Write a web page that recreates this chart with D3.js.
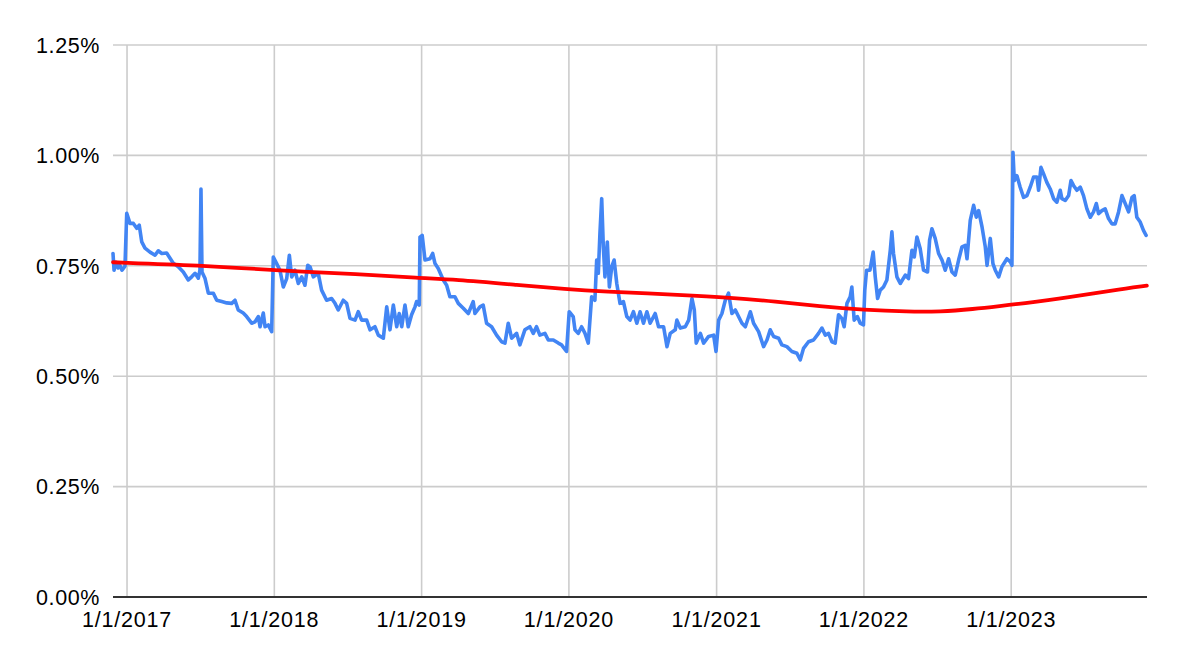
<!DOCTYPE html>
<html><head><meta charset="utf-8">
<script src="https://cdn.jsdelivr.net/npm/d3@7"></script>
<style>html,body{margin:0;padding:0;background:#fff;}svg{display:block;}</style>
</head><body>
<svg id="chart" width="1180" height="666"></svg>
<script>
// ---- data (dates as decimal years, values in %) ----
const seg2017 = [[2016.905,0.778],[2016.912,0.740],[2016.925,0.758],[2016.939,0.745],[2016.952,0.751],[2016.966,0.740],[2016.986,0.749],[2016.998,0.869],
[2017.020,0.846],[2017.043,0.846],[2017.066,0.835],[2017.083,0.842],[2017.100,0.804],[2017.122,0.790],[2017.156,0.781],[2017.190,0.774],[2017.212,0.784],[2017.236,0.778],[2017.269,0.779],[2017.292,0.767],[2017.314,0.756],[2017.348,0.748],[2017.382,0.736],[2017.416,0.718],[2017.439,0.725],[2017.462,0.733],[2017.484,0.722],[2017.495,0.740],[2017.502,0.924],[2017.509,0.736],[2017.529,0.722],[2017.552,0.688],[2017.586,0.688],[2017.609,0.672],[2017.643,0.669],[2017.677,0.666],[2017.711,0.665],[2017.733,0.672],[2017.755,0.650],[2017.789,0.643],[2017.812,0.635],[2017.846,0.620],[2017.869,0.623],[2017.891,0.635],[2017.903,0.612],[2017.925,0.643],[2017.937,0.612],[2017.959,0.616],[2017.982,0.601],[2017.993,0.770]];
const seg2018 = [[2018.016,0.755],[2018.038,0.740],[2018.061,0.702],[2018.084,0.721],[2018.102,0.774],[2018.118,0.725],[2018.140,0.740],[2018.163,0.710],[2018.186,0.725],[2018.208,0.706],[2018.227,0.751],[2018.242,0.748],[2018.265,0.725],[2018.298,0.733],[2018.321,0.695],[2018.355,0.672],[2018.389,0.676],[2018.412,0.665],[2018.434,0.650],[2018.468,0.672],[2018.491,0.665],[2018.514,0.631],[2018.548,0.627],[2018.570,0.646],[2018.593,0.627],[2018.627,0.627],[2018.650,0.605],[2018.683,0.612],[2018.706,0.593],[2018.740,0.586],[2018.763,0.657],[2018.785,0.605],[2018.808,0.661],[2018.831,0.612],[2018.848,0.642],[2018.865,0.612],[2018.887,0.661],[2018.909,0.612],[2018.932,0.639],[2018.955,0.657],[2018.966,0.669],[2018.984,0.661],[2018.989,0.815]];
const seg2019 = [[2019.004,0.819],[2019.023,0.763],[2019.057,0.766],[2019.075,0.778],[2019.091,0.755],[2019.113,0.744],[2019.147,0.718],[2019.170,0.706],[2019.192,0.680],[2019.226,0.680],[2019.249,0.665],[2019.283,0.654],[2019.317,0.642],[2019.350,0.669],[2019.362,0.642],[2019.396,0.657],[2019.418,0.661],[2019.441,0.620],[2019.475,0.612],[2019.509,0.593],[2019.543,0.578],[2019.566,0.575],[2019.588,0.620],[2019.611,0.586],[2019.645,0.597],[2019.667,0.571],[2019.701,0.605],[2019.735,0.612],[2019.758,0.597],[2019.780,0.612],[2019.803,0.593],[2019.837,0.597],[2019.860,0.582],[2019.894,0.582],[2019.928,0.575],[2019.950,0.571],[2019.984,0.556]];
const seg2020 = [[2020.002,0.646],[2020.029,0.635],[2020.041,0.605],[2020.063,0.597],[2020.086,0.612],[2020.109,0.597],[2020.131,0.575],[2020.154,0.680],[2020.176,0.672],[2020.188,0.763],[2020.199,0.733],[2020.210,0.823],[2020.222,0.902],[2020.233,0.793],[2020.244,0.725],[2020.260,0.804],[2020.274,0.702],[2020.290,0.748],[2020.306,0.763],[2020.324,0.710],[2020.346,0.665],[2020.369,0.669],[2020.392,0.635],[2020.414,0.627],[2020.437,0.646],[2020.460,0.620],[2020.482,0.646],[2020.505,0.620],[2020.528,0.646],[2020.550,0.620],[2020.584,0.642],[2020.607,0.612],[2020.641,0.612],[2020.664,0.567],[2020.686,0.597],[2020.720,0.605],[2020.731,0.627],[2020.754,0.609],[2020.788,0.612],[2020.811,0.627],[2020.833,0.676],[2020.849,0.650],[2020.862,0.575],[2020.890,0.597],[2020.912,0.575],[2020.946,0.590],[2020.980,0.593],[2020.996,0.556]];
const seg2021 = [[2021.014,0.627],[2021.036,0.642],[2021.059,0.672],[2021.081,0.688],[2021.104,0.642],[2021.127,0.650],[2021.149,0.635],[2021.172,0.620],[2021.195,0.612],[2021.229,0.646],[2021.251,0.620],[2021.285,0.601],[2021.319,0.567],[2021.342,0.582],[2021.364,0.605],[2021.387,0.590],[2021.421,0.586],[2021.443,0.571],[2021.477,0.567],[2021.511,0.556],[2021.545,0.552],[2021.568,0.537],[2021.590,0.563],[2021.624,0.578],[2021.658,0.582],[2021.692,0.597],[2021.715,0.609],[2021.738,0.593],[2021.760,0.597],[2021.783,0.578],[2021.805,0.575],[2021.828,0.639],[2021.850,0.631],[2021.866,0.612],[2021.885,0.665],[2021.907,0.680],[2021.918,0.702],[2021.934,0.627],[2021.956,0.635],[2021.975,0.620],[2021.997,0.616]];
const seg2022 = [[2022.006,0.695],[2022.018,0.740],[2022.041,0.740],[2022.063,0.781],[2022.077,0.725],[2022.093,0.676],[2022.111,0.695],[2022.133,0.702],[2022.156,0.718],[2022.179,0.785],[2022.190,0.827],[2022.201,0.778],[2022.224,0.725],[2022.247,0.710],[2022.281,0.729],[2022.303,0.721],[2022.326,0.785],[2022.342,0.770],[2022.360,0.815],[2022.382,0.789],[2022.405,0.740],[2022.432,0.736],[2022.446,0.808],[2022.462,0.834],[2022.484,0.812],[2022.507,0.778],[2022.530,0.763],[2022.552,0.740],[2022.575,0.766],[2022.598,0.736],[2022.620,0.729],[2022.643,0.763],[2022.666,0.793],[2022.688,0.796],[2022.700,0.766],[2022.722,0.853],[2022.745,0.887],[2022.763,0.860],[2022.779,0.875],[2022.802,0.838],[2022.824,0.793],[2022.836,0.751],[2022.858,0.812],[2022.876,0.755],[2022.892,0.740],[2022.915,0.725],[2022.937,0.748],[2022.971,0.766],[2022.994,0.759]];
const seg2023 = [[2023.005,0.751],[2023.012,1.007],[2023.021,0.943],[2023.039,0.954],[2023.061,0.928],[2023.084,0.905],[2023.107,0.909],[2023.129,0.928],[2023.152,0.951],[2023.175,0.951],[2023.186,0.921],[2023.202,0.973],[2023.220,0.958],[2023.242,0.939],[2023.265,0.924],[2023.288,0.902],[2023.310,0.894],[2023.333,0.921],[2023.344,0.902],[2023.367,0.898],[2023.390,0.909],[2023.406,0.943],[2023.423,0.932],[2023.446,0.921],[2023.469,0.928],[2023.491,0.909],[2023.514,0.879],[2023.537,0.860],[2023.559,0.872],[2023.578,0.891],[2023.593,0.868],[2023.616,0.875],[2023.638,0.879],[2023.661,0.857],[2023.684,0.845],[2023.706,0.845],[2023.729,0.872],[2023.752,0.909],[2023.774,0.891],[2023.797,0.872],[2023.820,0.905],[2023.835,0.909],[2023.853,0.860],[2023.876,0.849],[2023.898,0.830],[2023.916,0.819]];
const trend = [[2016.905,0.758],[2017.495,0.751],[2017.991,0.740],[2018.581,0.731],[2018.989,0.722],[2019.217,0.719],[2019.667,0.706],[2019.984,0.697],[2020.208,0.692],[2020.776,0.684],[2021.093,0.678],[2021.400,0.669],[2021.700,0.658],[2022.000,0.650],[2022.300,0.646],[2022.518,0.646],[2022.744,0.652],[2022.930,0.659],[2023.061,0.664],[2023.400,0.679],[2023.695,0.695],[2023.921,0.705]];
const xTickYears = [2017,2018,2019,2020,2021,2022,2023];
const yTicks = [0,0.25,0.5,0.75,1.0,1.25];
const xDomainYears = [2016.905, 2023.922];

// ---- helpers ----
function yrToDate(y){ const Y=Math.floor(y); const s=new Date(Y,0,1), e=new Date(Y+1,0,1); return new Date(+s + (y-Y)*(e-s)); }
const blue = [].concat(seg2017,seg2018,seg2019,seg2020,seg2021,seg2022,seg2023);

const svg = d3.select('#chart');
const L=113, R=1147, T=45, B=597;
const x = d3.scaleTime().domain(xDomainYears.map(yrToDate)).range([L,R]);
const y = d3.scaleLinear().domain([0,1.25]).range([B,T]);
const FONT = 'Arial, "Liberation Sans", Helvetica, sans-serif';

svg.append('rect').attr('width',1180).attr('height',666).attr('fill','#fff');

// horizontal gridlines
svg.append('g').selectAll('line').data(yTicks.filter(d=>d>0)).join('line')
  .attr('x1',L).attr('x2',R).attr('y1',d=>y(d)).attr('y2',d=>y(d))
  .attr('stroke','#cccccc').attr('stroke-width',1.6);
// vertical gridlines
svg.append('g').selectAll('line').data(xTickYears).join('line')
  .attr('x1',d=>x(new Date(d,0,1))).attr('x2',d=>x(new Date(d,0,1)))
  .attr('y1',T).attr('y2',B).attr('stroke','#cccccc').attr('stroke-width',1.6);

// y labels
svg.append('g').selectAll('text').data(yTicks).join('text')
  .attr('x',100).attr('y',d=>y(d)).attr('dy','0.36em')
  .attr('text-anchor','end').attr('font-family',FONT).attr('font-size',21.5)
  .attr('letter-spacing','0.6px').attr('fill','#000')
  .text(d=>d3.format('.2f')(d)+'%');

// x labels
svg.append('g').selectAll('text').data(xTickYears).join('text')
  .attr('x',d=>x(new Date(d,0,1))).attr('y',627)
  .attr('text-anchor','middle').attr('font-family',FONT).attr('font-size',21.5)
  .attr('letter-spacing','0.8px').attr('fill','#000')
  .text(d=>'1/1/'+d);

// blue series
const line = d3.line().x(d=>x(yrToDate(d[0]))).y(d=>y(d[1]));
svg.append('path').datum(blue).attr('d',line).attr('fill','none')
  .attr('stroke','#4285F4').attr('stroke-width',3.6).attr('stroke-linejoin','round').attr('stroke-linecap','round');

// trend
const tline = d3.line().x(d=>x(yrToDate(d[0]))).y(d=>y(d[1])).curve(d3.curveBasis);
svg.append('path').datum(trend).attr('d',tline).attr('fill','none')
  .attr('stroke','#FF0000').attr('stroke-width',3.8).attr('stroke-linecap','round');

// baseline axis
svg.append('line').attr('x1',L).attr('x2',R).attr('y1',y(0)).attr('y2',y(0))
  .attr('stroke','#333333').attr('stroke-width',2);
</script>
</body></html>
